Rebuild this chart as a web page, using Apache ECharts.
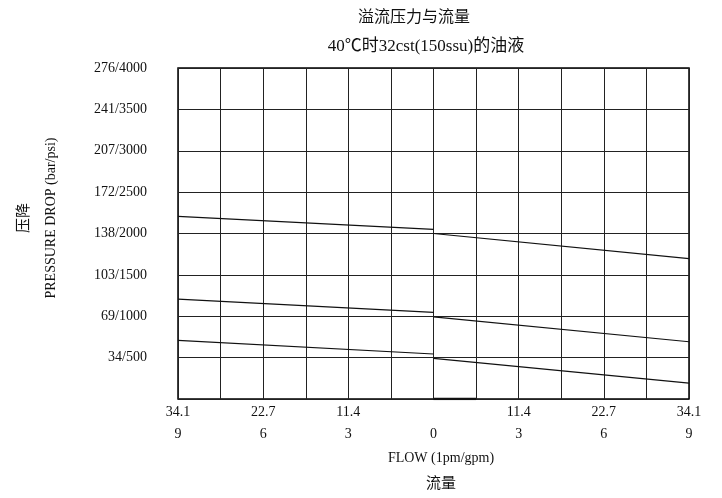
<!DOCTYPE html>
<html>
<head>
<meta charset="utf-8">
<script src="https://cdn.jsdelivr.net/npm/echarts@6/dist/echarts.min.js"></script>
<style>
html,body{margin:0;padding:0;background:#fff;}
#chart{width:722px;height:498px;}
</style>
</head>
<body>
<div id="chart"></div>
<script>
// ---- data ----
var xTickGpm = [9, 6, 3, 0, 3, 6, 9];
var xTickLpm = ['34.1', '22.7', '11.4', '', '11.4', '22.7', '34.1'];
var yTickPsi = [0, 500, 1000, 1500, 2000, 2500, 3000, 3500, 4000];
var yTickBar = ['', '34', '69', '103', '138', '172', '207', '241', '276'];

var leftX = [-9, 0];
var rightX = [0, 9];
var curve1Left = [2208, 2051];
var curve1Right = [2000, 1696];
var curve2Left = [1208, 1048];
var curve2Right = [993, 692];
var curve3Left = [709, 544];
var curve3Right = [490, 193];
var baseX = [0, 1.5];
var baseY = [0, 0];

var FONT = "'Liberation Serif', 'Noto Sans CJK SC', serif";

function pairs(xs, ys) { return xs.map(function (x, i) { return [x, ys[i]]; }); }

function seg(xs, ys, w) {
  return {
    type: 'line', data: pairs(xs, ys), symbol: 'none', silent: true,
    lineStyle: { color: '#111', width: w || 1.2 }, z: 5
  };
}

var chart = echarts.init(document.getElementById('chart'));
chart.setOption({
  animation: false,
  backgroundColor: '#fff',
  grid: { left: 178, right: 33, top: 68, bottom: 99, show: true, borderColor: '#000', borderWidth: 1.5 },
  xAxis: {
    type: 'value', min: -9, max: 9, interval: 1.5,
    axisLine: { show: false },
    axisTick: { show: false },
    splitLine: { show: true, lineStyle: { color: '#222', width: 1 } },
    axisLabel: {
      margin: 2, color: '#111', fontFamily: FONT, fontSize: 14, lineHeight: 22,
      showMinLabel: true, showMaxLabel: true,
      formatter: function (v) {
        var k = (v + 9) / 3;
        if (Math.abs(k - Math.round(k)) > 1e-6) return '';
        k = Math.round(k);
        return (xTickLpm[k] || ' ') + '\n' + xTickGpm[k];
      }
    }
  },
  yAxis: {
    type: 'value', min: 0, max: 4000, interval: 500,
    axisLine: { show: false },
    axisTick: { show: false },
    splitLine: { show: true, lineStyle: { color: '#222', width: 1 } },
    axisLabel: {
      margin: 31, color: '#111', fontFamily: FONT, fontSize: 14,
      padding: [6, 0, 0, 0],
      showMinLabel: true, showMaxLabel: true,
      formatter: function (v) {
        var i = yTickPsi.indexOf(v);
        if (i <= 0) return '';
        return yTickBar[i] + '/' + v;
      }
    }
  },
  series: [
    seg(leftX, curve1Left), seg(rightX, curve1Right),
    seg(leftX, curve2Left), seg(rightX, curve2Right),
    seg(leftX, curve3Left), seg(rightX, curve3Right),
    seg(baseX, baseY, 2.5)
  ],
  graphic: [
    { type: 'text', x: 414, y: 18, style: { text: '溢流压力与流量', font: '16px ' + FONT, fill: '#111', textAlign: 'center', textVerticalAlign: 'middle' } },
    { type: 'text', x: 426, y: 47, style: { text: '40℃时32cst(150ssu)的油液', font: '17px ' + FONT, fill: '#111', textAlign: 'center', textVerticalAlign: 'middle' } },
    { type: 'text', x: 24, y: 218, rotation: Math.PI / 2, style: { text: '压降', font: '15px ' + FONT, fill: '#111', textAlign: 'center', textVerticalAlign: 'middle' } },
    { type: 'text', x: 51, y: 218, rotation: Math.PI / 2, style: { text: 'PRESSURE DROP (bar/psi)', font: '14px ' + FONT, fill: '#111', textAlign: 'center', textVerticalAlign: 'middle' } },
    { type: 'text', x: 441, y: 458, style: { text: 'FLOW (1pm/gpm)', font: '14px ' + FONT, fill: '#111', textAlign: 'center', textVerticalAlign: 'middle' } },
    { type: 'text', x: 441, y: 484, style: { text: '流量', font: '15px ' + FONT, fill: '#111', textAlign: 'center', textVerticalAlign: 'middle' } }
  ]
});
</script>
</body>
</html>
